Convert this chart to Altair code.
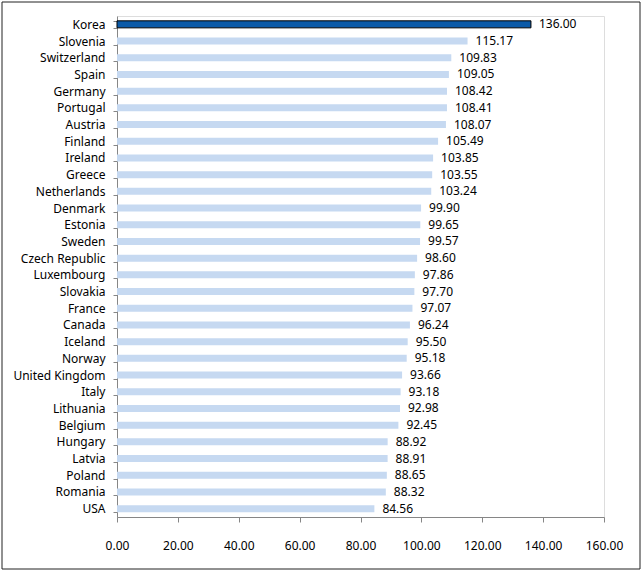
import altair as alt
import pandas as pd

countries = ["Korea", "Slovenia", "Switzerland", "Spain", "Germany", "Portugal", "Austria",
             "Finland", "Ireland", "Greece", "Netherlands", "Denmark", "Estonia", "Sweden",
             "Czech Republic", "Luxembourg", "Slovakia", "France", "Canada", "Iceland", "Norway",
             "United Kingdom", "Italy", "Lithuania", "Belgium", "Hungary", "Latvia", "Poland",
             "Romania", "USA"]
values = [136.00, 115.17, 109.83, 109.05, 108.42, 108.41, 108.07, 105.49, 103.85, 103.55,
          103.24, 99.90, 99.65, 99.57, 98.60, 97.86, 97.70, 97.07, 96.24, 95.50, 95.18,
          93.66, 93.18, 92.98, 92.45, 88.92, 88.91, 88.65, 88.32, 84.56]
highlight = ["Korea"]

df = pd.DataFrame({"country": countries, "value": values})
df["hl"] = df["country"].isin(highlight)

FONT = "Noto Sans"

y_enc = alt.Y("country:N", sort=countries, title=None,
              scale=alt.Scale(paddingInner=0.58, paddingOuter=0.29),
              axis=alt.Axis(domainColor="#868686", tickColor="#868686", tickSize=4,
                            tickBand="extent", labelPadding=8, labelFont=FONT,
                            labelFontSize=12, labelColor="#000000"))
x_enc = alt.X("value:Q", title=None,
              scale=alt.Scale(domain=[0, 160], nice=False),
              axis=alt.Axis(values=[0, 20, 40, 60, 80, 100, 120, 140, 160], format=".2f",
                            grid=False, domainColor="#868686", tickColor="#868686",
                            tickSize=5, labelPadding=18, labelFont=FONT, labelFontSize=12,
                            labelColor="#000000", labelFlush=False, labelOverlap=False))

base = alt.Chart(df).encode(y=y_enc)

bars = base.mark_bar(strokeWidth=1).encode(
    x=x_enc,
    color=alt.condition("datum.hl", alt.value("#0b5aa8"), alt.value("#c6d9f1")),
    stroke=alt.condition("datum.hl", alt.value("#000000"), alt.value(None)),
)

labels = base.mark_text(align="left", baseline="middle", dx=8, font=FONT, fontSize=12,
                        color="#000000").encode(
    x="value:Q",
    text=alt.Text("value:Q", format=".2f"),
)

frame = alt.Chart(pd.DataFrame({"a": [0]})).mark_rect(
    fill=None, stroke="#222222", strokeWidth=1, clip=False
).encode(x=alt.value(-115), x2=alt.value(523), y=alt.value(-14), y2=alt.value(553))

chart = alt.layer(bars, labels, frame).properties(
    width=487, height=501,
    padding={"left": 117, "top": 16, "right": 39, "bottom": 55},
    autosize=alt.AutoSizeParams(type="none"),
).configure_view(stroke=None).configure(background="#ffffff")

chart.save("out.html", embed_options={"renderer": "svg", "actions": False})
